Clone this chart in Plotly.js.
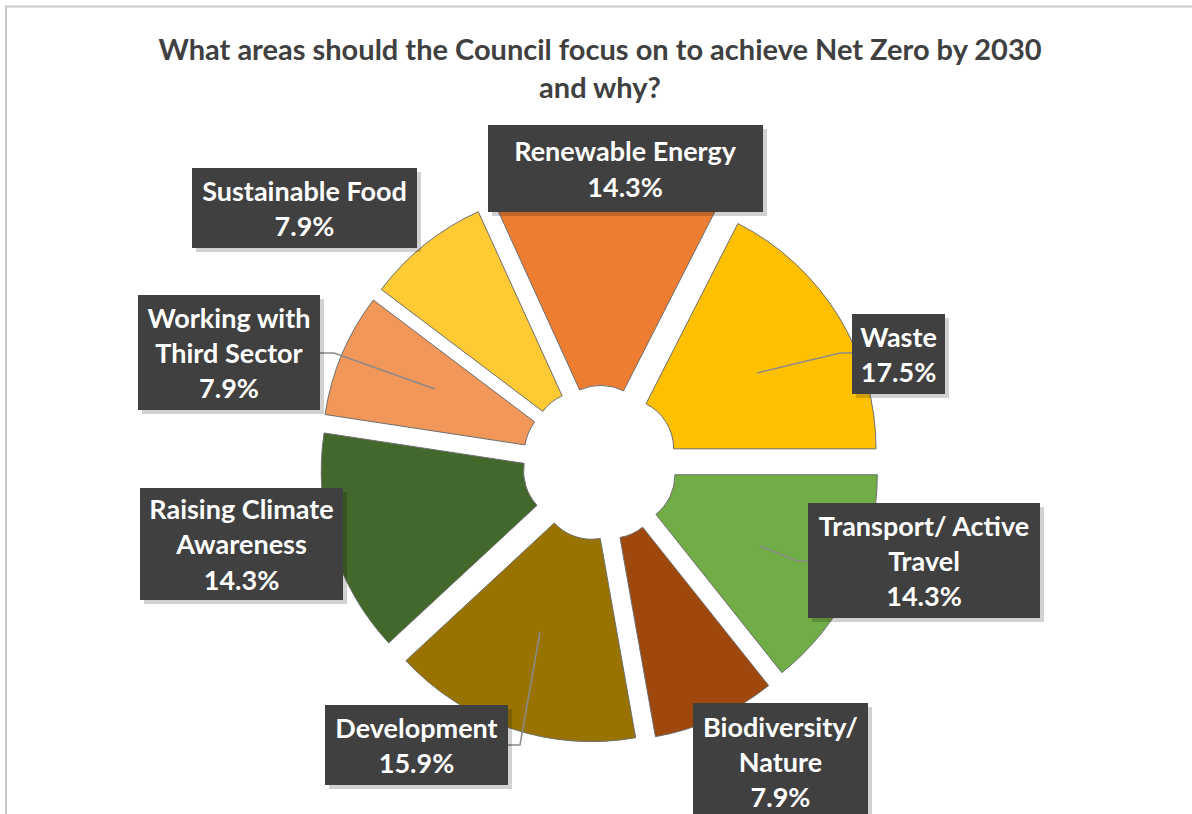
<!DOCTYPE html>
<html>
<head>
<meta charset="utf-8">
<script src="https://cdn.plot.ly/plotly-3.0.1.min.js"></script>
<style>
  html, body { margin: 0; padding: 0; background: #ffffff; }
  #chart { width: 1192px; height: 814px; }
</style>
</head>
<body>
<div id="chart"></div>
<script>
// ---- Data ----
const categories = [
  'Waste',
  'Transport/ Active Travel',
  'Biodiversity/ Nature',
  'Development',
  'Raising Climate Awareness',
  'Working with Third Sector',
  'Sustainable Food',
  'Renewable Energy'
];
const labelLines = [
  'Waste',
  'Transport/ Active<br>Travel',
  'Biodiversity/<br>Nature',
  'Development',
  'Raising Climate<br>Awareness',
  'Working with<br>Third Sector',
  'Sustainable Food',
  'Renewable Energy'
];
const values = [17.5, 14.3, 7.9, 15.9, 14.3, 7.9, 7.9, 14.3];
const colors = ['#FFC000', '#70AD47', '#9E480E', '#997300', '#43682B', '#F1975A', '#FFCA33', '#ED7D31'];

// ---- Layout helpers (pixel -> paper) ----
const W = 1192, H = 814;
const px = x => x / W;
const py = y => 1 - y / H;

// label box geometry in pixels: [x0, y0, x1, y1]
const boxes = [
  [852, 314, 945, 394],
  [808, 503, 1040, 618],
  [693, 703, 868, 820],
  [325, 705, 508, 785],
  [140, 488, 343, 600],
  [138, 295, 320, 410],
  [192, 168, 417, 248],
  [488, 125, 763, 212]
];
// leader lines (pixel paths) for some labels
const leaders = [
  [[852, 353], [840, 353], [757, 373]],
  [[808, 561], [797, 561], [760, 546]],
  null,
  [[508, 745], [520, 745], [540, 632]],
  null,
  [[320, 353], [334, 353], [435, 389]],
  null,
  null
];

const shapes = [];
// chart-area border
shapes.push({
  type: 'rect', xref: 'paper', yref: 'paper',
  x0: px(6), x1: 1.05, y0: -0.05, y1: py(6.5),
  line: { color: '#c9c9c9', width: 2 }, fillcolor: 'rgba(0,0,0,0)', layer: 'below'
});
leaders.forEach(l => {
  if (!l) return;
  const d = l.map((p, i) => (i ? 'L' : 'M') + px(p[0]) + ',' + py(p[1])).join(' ');
  shapes.push({ type: 'path', xref: 'paper', yref: 'paper', path: d,
    line: { color: '#8a8a8a', width: 1.5 }, layer: 'above' });
});
boxes.forEach(b => {
  shapes.push({ type: 'rect', xref: 'paper', yref: 'paper',
    x0: px(b[0] + 4), x1: px(b[2] + 4), y0: py(b[3] + 4), y1: py(b[1] + 4),
    line: { width: 0 }, fillcolor: 'rgba(0,0,0,0.18)', layer: 'above' });
});

const annotations = categories.map((c, i) => {
  const b = boxes[i];
  return {
    xref: 'paper', yref: 'paper',
    x: px((b[0] + b[2]) / 2), y: py((b[1] + b[3]) / 2),
    xanchor: 'center', yanchor: 'middle',
    width: b[2] - b[0], height: b[3] - b[1],
    borderpad: 0, borderwidth: 0,
    bgcolor: '#404040', showarrow: false,
    align: 'center', valign: 'middle',
    text: labelLines[i] + '<br>' + values[i].toFixed(1) + '%',
    font: { family: 'Lato, "Open Sans", sans-serif', size: 27, color: '#ffffff', weight: 700 }
  };
});

const trace = {
  type: 'pie',
  labels: categories,
  values: values,
  sort: false,
  direction: 'clockwise',
  rotation: 27,
  hole: 0.2,
  pull: values.map(() => 0.107),
  marker: { colors: colors, line: { color: '#6e6e6e', width: 1 } },
  textinfo: 'none',
  hoverinfo: 'label+percent',
  showlegend: false,
  domain: { x: [px(320), px(880)], y: [py(743), py(183)] }
};

const layout = {
  width: W, height: H,
  margin: { l: 0, r: 0, t: 0, b: 0 },
  paper_bgcolor: '#ffffff',
  plot_bgcolor: '#ffffff',
  showlegend: false,
  title: {
    text: 'What areas should the Council focus on to achieve Net Zero by 2030<br>and why?',
    x: px(600), xanchor: 'center',
    y: 1 - 60 / H, yanchor: 'top',
    font: { family: 'Lato, "Open Sans", sans-serif', size: 29, color: '#404040', weight: 700 }
  },
  shapes: shapes,
  annotations: annotations
};

Plotly.newPlot('chart', [trace], layout, { displayModeBar: false, staticPlot: true });
</script>
</body>
</html>
